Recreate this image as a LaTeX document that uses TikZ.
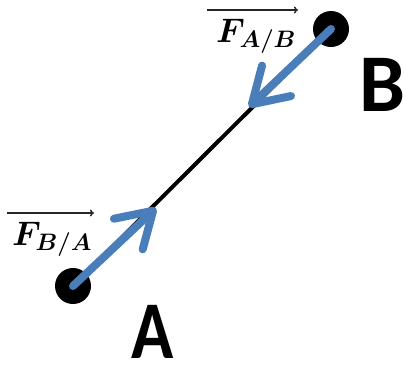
\RequirePackage{fix-cm}
\documentclass[tikz,border=0pt]{standalone}
\usepackage{amsmath,amssymb}
\usepackage{fontspec}
\newfontfamily\labelfont{Carlito}
\usetikzlibrary{arrows.meta}
\definecolor{forceblue}{RGB}{74,126,187}
\tikzset{
  dot/.style={circle,fill=black,minimum size=36pt,inner sep=0pt},
  bar/.style={line width=4pt,black},
  force/.style={line width=8pt,forceblue,line cap=round,line join=round,
    -{Straight Barb[length=34pt,width=42pt,line cap=round,line join=round]}},
  vec/.style={line width=1.4pt,black!85,-{To[length=4pt,width=7pt]}},
  pointlabel/.style={font=\labelfont\bfseries\fontsize{82}{82}\selectfont,inner sep=0pt,anchor=base},
  forcelabel/.style={font=\fontsize{34}{34}\selectfont,inner sep=0pt,anchor=base west}
}
\begin{document}
\begin{tikzpicture}[x=1pt,y=-1pt]
\useasboundingbox (0,0) rectangle (404,365);
\node[dot] (A) at (73,286) {};
\node[dot] (B) at (331,29) {};
\draw[bar] (A.center) -- (B.center);
\coordinate (tA) at (156,208);
\coordinate (tB) at (249,107);
\draw[force] (A.center) -- (tA);
\draw[force] (B.center) -- (tB);
\node[pointlabel,xscale=0.85] (lA) at (153,358) {A};
\node[pointlabel] (lB) at (382,111) {B};
\node[forcelabel] (fBA) at (12,245) {$\boldsymbol{F_{B/A}}$};
\node[forcelabel] (fAB) at (216,42) {$\boldsymbol{F_{A/B}}$};
\coordinate (vBA1) at (7,213);
\coordinate (vBA2) at (94,213);
\coordinate (vAB1) at (207,10);
\coordinate (vAB2) at (298,10);
\draw[vec] (vBA1) -- (vBA2);
\draw[vec] (vAB1) -- (vAB2);
\end{tikzpicture}
\end{document}
